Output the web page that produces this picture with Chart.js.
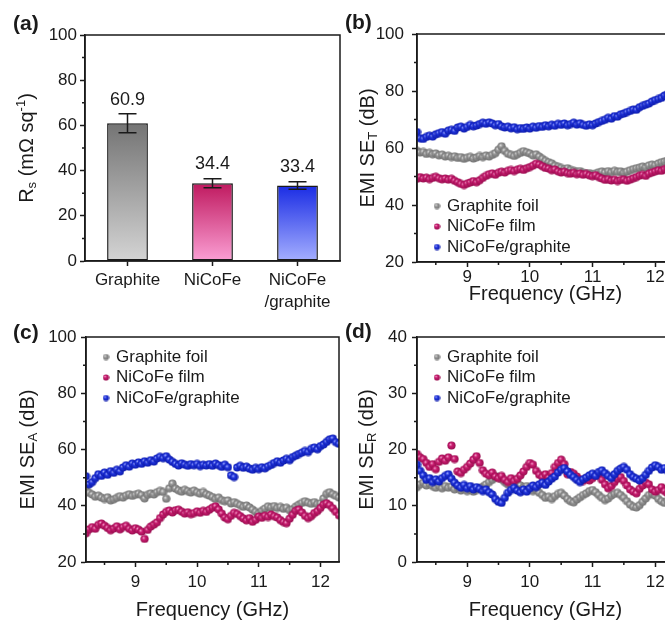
<!DOCTYPE html>
<html>
<head>
<meta charset="utf-8">
<script src="https://cdn.jsdelivr.net/npm/chart.js@4.4.0/dist/chart.umd.min.js"></script>
<style>
body { margin: 0; background: #fff; }
#fig { position: relative; width: 665px; height: 622px; overflow: hidden; background: #fff; }
.panel { position: absolute; }
</style>
</head>
<body>
<div id="fig">
  <div class="panel" style="left:0;top:0;width:345px;height:310px"><canvas id="pa"></canvas></div>
  <div class="panel" style="left:332px;top:0;width:360px;height:310px"><canvas id="pb"></canvas></div>
  <div class="panel" style="left:0;top:310px;width:345px;height:312px"><canvas id="pc"></canvas></div>
  <div class="panel" style="left:332px;top:310px;width:360px;height:312px"><canvas id="pd"></canvas></div>
</div>
<script>
// ---- data ----
const sampleLabels = ['Graphite', 'NiCoFe', ['NiCoFe', '/graphite']];
const rsValues = [60.9, 34.4, 33.4];
const rsErrors = [4.2, 2.0, 1.7];
const rsTicks = [0, 20, 40, 60, 80, 100];
const rsMinor = [10, 30, 50, 70, 90];

const seriesNames = ['Graphite foil', 'NiCoFe film', 'NiCoFe/graphite'];
const freqTicks = [9, 10, 11, 12];
const freqMinor = [8.5, 9.5, 10.5, 11.5];
const seTicks = [20, 40, 60, 80, 100];
const seMinor = [30, 50, 70, 90];
const srTicks = [0, 10, 20, 30, 40];
const srMinor = [5, 15, 25, 35];

const freq = [
  8.20, 8.25, 8.30, 8.35, 8.40, 8.45, 8.50, 8.55, 8.60, 8.65,
  8.70, 8.75, 8.80, 8.85, 8.90, 8.95, 9.00, 9.05, 9.10, 9.15,
  9.20, 9.25, 9.30, 9.35, 9.40, 9.45, 9.50, 9.55, 9.60, 9.65,
  9.70, 9.75, 9.80, 9.85, 9.90, 9.95, 10.00, 10.05, 10.10, 10.15,
  10.20, 10.25, 10.30, 10.35, 10.40, 10.45, 10.50, 10.55, 10.60, 10.65,
  10.70, 10.75, 10.80, 10.85, 10.90, 10.95, 11.00, 11.05, 11.10, 11.15,
  11.20, 11.25, 11.30, 11.35, 11.40, 11.45, 11.50, 11.55, 11.60, 11.65,
  11.70, 11.75, 11.80, 11.85, 11.90, 11.95, 12.00, 12.05, 12.10, 12.15,
  12.20, 12.25, 12.30
];

// (b) total shielding
const seTGraphite = [
  59.0, 58.4, 58.6, 57.9, 58.3, 57.8, 58.1, 57.4, 57.7, 57.0,
  57.3, 56.8, 57.1, 56.5, 56.8, 56.2, 56.6, 56.9, 56.3, 56.7,
  57.2, 56.8, 57.4, 57.0, 57.6, 58.2, 59.4, 60.6, 59.0, 58.0,
  57.6, 57.2, 57.8, 58.3, 58.9, 58.5, 58.1, 57.4, 57.8, 57.0,
  56.2, 55.5, 55.0, 54.6, 53.8, 53.4, 53.0, 52.6, 52.9, 52.3,
  52.0, 51.6, 51.9, 51.3, 51.0, 51.2, 50.8, 51.1, 51.5, 51.8,
  51.4, 51.9, 51.5, 52.0, 51.6, 51.8, 51.3, 51.7, 52.2, 52.6,
  52.9, 53.1, 53.5, 53.2, 53.9, 54.2, 54.0, 54.6, 55.0, 55.3,
  55.6, 55.9, 56.2
];
const seTNiCoFe = [
  49.2, 49.8, 49.3, 49.6, 49.1, 49.5, 49.9, 49.4, 49.0, 49.3,
  48.9, 49.2, 48.5, 48.0, 47.4, 47.0, 47.5, 47.9, 48.4, 48.0,
  48.7, 49.5, 50.2, 50.8, 51.1, 50.6, 51.3, 51.7, 51.4, 52.0,
  52.3, 51.9, 52.4, 52.7, 52.3, 52.9, 53.3, 53.8, 54.5, 54.2,
  53.6, 53.0, 52.8, 52.2, 52.5, 51.8, 51.4, 51.7, 51.2, 51.0,
  51.3, 50.8, 51.1, 50.6, 50.9, 50.4, 50.1, 50.5, 49.8, 49.3,
  48.8, 49.1, 48.6, 48.9, 48.4, 48.8, 49.0, 48.5, 48.9, 49.4,
  49.8, 50.3, 50.6, 50.2, 51.0, 51.4, 51.8, 52.2, 52.0, 52.6,
  53.0, 52.7, 53.2
];
const seTHybrid = [
  65.6, 63.4, 63.2, 63.9, 64.3, 64.0, 64.8, 65.2, 65.6, 65.0,
  66.1, 66.4, 66.0, 67.2, 67.5, 66.8, 67.4, 68.1, 67.6, 67.9,
  68.4, 68.9, 68.5, 69.0, 68.6, 68.0, 68.4, 67.6, 67.2, 67.5,
  66.9, 67.3, 66.6, 67.0, 66.7, 67.2, 66.8, 67.5, 67.1, 67.7,
  67.4, 68.0, 67.6, 68.2, 67.8, 68.5, 68.1, 68.6, 68.0, 68.4,
  68.9, 68.2, 68.7, 68.1, 67.8, 68.3, 68.0, 68.6, 69.1, 69.5,
  69.9, 70.6, 70.3, 71.2, 71.0, 71.8, 72.1, 72.6, 73.0, 73.5,
  73.4, 74.3, 74.8, 75.2, 75.6, 76.3, 76.8, 77.2, 77.6, 78.4,
  78.9, 79.4, 80.0
];

// (c) absorption
const seAGraphite = [
  45.4, 44.6, 44.0, 43.2, 43.6, 42.9, 42.4, 43.0, 41.9, 42.3,
  42.8, 43.4, 42.9, 43.6, 44.1, 43.5, 43.9, 44.3, 43.8, 42.6,
  43.9, 44.4, 44.0, 44.8, 45.3, 44.9, 42.5, 46.2, 47.9, 46.1,
  45.5, 45.0, 45.7, 45.2, 44.7, 45.4, 44.8, 44.3, 44.9, 44.1,
  43.6, 43.1, 42.4, 42.9, 42.0, 41.6, 41.9, 40.8, 41.3, 40.7,
  40.2, 39.6, 40.1, 39.4, 38.6, 37.8, 37.3, 38.2, 39.0, 39.8,
  39.4, 39.9, 39.2, 39.6, 38.9, 39.3, 38.4, 38.8, 39.7, 40.4,
  41.0, 41.6, 41.1, 40.7, 41.3, 40.6, 40.9, 42.6, 44.2, 44.8,
  44.1, 43.5, 42.9
];
const seANiCoFe = [
  30.2, 31.6, 32.4, 31.8, 33.2, 33.7, 32.9, 32.1, 31.3, 31.9,
  32.7, 31.6, 32.4, 32.9, 31.8, 31.2, 32.0, 31.5, 30.8, 28.2,
  31.4, 32.6, 33.3, 34.1, 35.6, 36.9, 37.8, 38.3, 37.6, 38.4,
  38.6, 37.9, 37.2, 37.7, 37.0, 37.4, 38.0, 37.5, 38.2, 37.8,
  38.6, 39.3, 39.8, 38.7, 37.2, 35.8, 35.2, 36.4, 37.5, 37.1,
  36.3, 35.5, 34.8, 35.6, 34.3, 35.0, 36.2, 35.7, 36.5, 36.0,
  36.9, 36.3, 35.8, 34.9, 34.2, 33.8, 35.4, 36.8, 38.2, 38.7,
  37.6, 36.4, 35.6, 36.3, 37.4, 38.1, 39.2, 40.4, 40.9, 40.2,
  39.1, 37.8, 36.6
];
const seAHybrid = [
  50.5, 47.6, 48.4, 49.8, 51.2, 50.6, 51.8, 51.0, 52.3, 51.7,
  52.8, 52.2, 53.6, 54.4, 53.9, 55.0, 54.6, 55.4, 54.9, 55.8,
  55.3, 56.2, 55.7, 56.8, 57.4, 56.9, 57.6, 56.4, 55.6, 54.9,
  54.3, 55.1, 54.6, 54.2, 54.8, 54.4, 54.9, 54.1, 54.6, 54.3,
  54.8, 54.2, 55.0, 54.4, 53.8, 54.6, 53.7, 50.8, 50.2, 53.6,
  54.2, 53.5, 53.9, 53.2, 52.8, 53.5, 53.0, 53.7, 53.3, 54.0,
  54.5, 55.2, 55.8, 55.3, 56.1, 56.7, 56.2, 57.3, 57.8, 58.4,
  58.9, 59.5, 59.1, 60.2, 60.7, 60.1, 61.2, 61.8, 62.7, 63.6,
  63.9, 62.6, 62.0
];

// (d) reflection
const seRGraphite = [
  13.3, 13.8, 14.1, 13.6, 13.9, 13.5, 13.2, 13.6, 13.1, 13.5,
  13.2, 13.4, 12.9, 13.3, 12.7, 13.0, 12.6, 12.9, 12.5, 12.8,
  13.1, 13.4, 13.8, 14.2, 14.6, 15.0, 15.2, 14.7, 14.2, 13.8,
  14.1, 13.7, 14.0, 13.6, 13.2, 13.5, 13.0, 12.6, 12.9, 12.3,
  11.9, 11.4, 11.6, 11.2, 11.7, 12.1, 12.3, 11.8, 11.2, 10.8,
  10.6, 11.1, 11.5, 11.9, 12.2, 12.6, 12.8, 12.4, 11.9, 11.4,
  11.0, 11.3, 11.8, 12.1, 12.3, 11.9, 11.4, 10.8, 10.2, 9.8,
  9.7, 10.1, 10.7, 11.3, 11.9, 12.2, 11.8, 11.2, 10.8, 10.5,
  10.9, 11.3, 11.0
];
const seRNiCoFe = [
  19.2, 18.6, 18.3, 17.6, 16.9, 17.4, 16.5, 17.8, 18.4, 18.0,
  18.6, 20.7, 18.3, 16.1, 15.8, 16.4, 16.9, 17.5, 18.2, 18.8,
  17.6, 16.3, 15.7, 15.4, 15.9, 15.2, 14.9, 15.3, 14.6, 14.2,
  14.9, 14.4, 14.8, 15.4, 16.1, 16.9, 17.6, 17.3, 16.2, 15.5,
  15.1, 15.6, 15.0, 15.8, 16.9, 17.6, 18.2, 17.4, 15.6, 16.0,
  15.7, 15.2, 14.7, 14.4, 14.9, 14.5, 14.9, 15.3, 15.6, 14.6,
  13.8, 13.1, 13.5, 14.2, 14.8, 15.1, 14.4, 13.6, 12.9, 12.5,
  12.2, 13.0, 13.6, 14.1, 13.8, 12.9, 12.5, 12.8, 13.3, 12.6,
  12.2, 12.6, 12.9
];
const seRHybrid = [
  17.3, 16.2, 15.4, 14.6, 14.9, 14.2, 14.7, 14.3, 14.9, 15.3,
  15.6, 14.8, 14.1, 13.6, 13.2, 13.7, 13.1, 13.5, 12.9, 13.3,
  13.0, 12.6, 12.9, 12.4, 12.0, 11.2, 10.7, 10.5, 11.4, 12.3,
  12.8, 13.2, 12.7, 12.4, 12.9, 12.5, 13.1, 13.6, 13.3, 13.8,
  14.1, 13.7, 14.3, 14.8, 15.2, 15.9, 16.4, 16.7, 16.1, 15.5,
  15.1, 14.6, 14.2, 14.7, 15.0, 15.4, 15.7, 15.3, 16.0, 16.3,
  15.8, 15.3, 14.9, 15.6, 16.2, 16.6, 16.9, 16.4, 15.6, 15.1,
  14.8, 14.5, 14.9, 15.5, 16.2, 16.8, 17.2, 16.9, 16.4, 16.7,
  16.2, 15.9, 16.4
];

// ---- styling ----
const FONT = "'Liberation Sans', Arial, sans-serif";
const INK = '#1a1a1a';
Chart.defaults.font.family = FONT;
Chart.defaults.color = INK;
Chart.defaults.animation = false;

const barTop = ['#747474', '#bf195f', '#1a2ce4'];
const barBottom = ['#d4d4d4', '#fb9fd4', '#a5afff'];

// shaded dot used as point style
function ball(light, base, dark, size) {
  const c = document.createElement('canvas');
  c.width = c.height = size;
  const g = c.getContext('2d');
  const m = size / 2;
  const gr = g.createRadialGradient(m - 1.2, m - 1.2, 0.2, m, m, m);
  gr.addColorStop(0, light);
  gr.addColorStop(0.35, base);
  gr.addColorStop(1, dark);
  g.fillStyle = gr;
  g.beginPath();
  g.arc(m, m, m - 0.4, 0, Math.PI * 2);
  g.fill();
  return c;
}
const balls = [
  ball('#e2e2e2', '#979797', '#6c6c6c', 9),
  ball('#f2a2ca', '#c91c70', '#930c4c', 9),
  ball('#a3aeff', '#2135de', '#0a17a4', 9)
];
const dots = [
  ball('#e2e2e2', '#979797', '#6c6c6c', 7),
  ball('#f2a2ca', '#c91c70', '#930c4c', 7),
  ball('#a3aeff', '#2135de', '#0a17a4', 7)
];

function drawRich(ctx, parts, x, y) {
  ctx.save();
  ctx.translate(x, y);
  ctx.rotate(-Math.PI / 2);
  ctx.textBaseline = 'middle';
  ctx.textAlign = 'left';
  ctx.fillStyle = INK;
  const fontOf = p => (p[1] ? 13 : 20) + 'px ' + FONT;
  const widths = parts.map(p => { ctx.font = fontOf(p); return ctx.measureText(p[0]).width; });
  let cx = -widths.reduce((s, w) => s + w, 0) / 2;
  parts.forEach((p, i) => {
    ctx.font = fontOf(p);
    const dy = p[1] === 'sub' ? 5 : p[1] === 'sup' ? -6 : 0;
    ctx.fillText(p[0], cx, dy);
    cx += widths[i];
  });
  ctx.restore();
}

function deco(cfg) {
  return {
    id: 'deco',
    afterDraw(chart) {
      const { ctx, chartArea: a } = chart;
      const xs = chart.scales.x, ys = chart.scales.y;
      ctx.save();
      ctx.strokeStyle = INK;
      ctx.lineWidth = 1.5;
      ctx.strokeRect(a.left, a.top, a.right - a.left, a.bottom - a.top);
      ctx.beginPath();
      (cfg.minorX || []).forEach(v => {
        const px = xs.getPixelForValue(v);
        ctx.moveTo(px, a.bottom); ctx.lineTo(px, a.bottom + 3);
      });
      (cfg.minorY || []).forEach(v => {
        const py = ys.getPixelForValue(v);
        ctx.moveTo(a.left, py); ctx.lineTo(a.left - 3, py);
      });
      ctx.stroke();

      ctx.fillStyle = INK;
      ctx.font = 'bold 21px ' + FONT;
      ctx.textBaseline = 'alphabetic';
      ctx.textAlign = 'left';
      ctx.fillText(cfg.panel, cfg.panelX, cfg.panelY);

      drawRich(ctx, cfg.yTitle, cfg.yTitleX, (a.top + a.bottom) / 2);

      if (cfg.legendY !== undefined) {
        ctx.font = '17px ' + FONT;
        ctx.textBaseline = 'middle';
        chart.data.datasets.forEach((ds, i) => {
          const ry = a.top + cfg.legendY + i * 20.5;
          ctx.drawImage(dots[i], a.left + 20 - 3.5, ry - 3.5);
          ctx.fillStyle = INK;
          ctx.fillText(ds.label, a.left + 30, ry);
        });
      }
      ctx.restore();
    }
  };
}

const tickGrid = { drawOnChartArea: false, drawTicks: true, tickLength: 5, tickColor: INK, tickWidth: 1.5 };
const axisBorder = { display: true, color: INK, width: 1.5 };

// ---- (a) sheet resistance bars ----
const errorBars = {
  id: 'errorBars',
  afterDatasetsDraw(chart) {
    const { ctx } = chart;
    const ys = chart.scales.y;
    const meta = chart.getDatasetMeta(0);
    ctx.save();
    ctx.strokeStyle = INK;
    ctx.lineWidth = 1.5;
    ctx.fillStyle = INK;
    ctx.font = '18px ' + FONT;
    ctx.textAlign = 'center';
    ctx.textBaseline = 'middle';
    meta.data.forEach((bar, i) => {
      const hi = ys.getPixelForValue(rsValues[i] + rsErrors[i]);
      const lo = ys.getPixelForValue(rsValues[i] - rsErrors[i]);
      ctx.beginPath();
      ctx.moveTo(bar.x, hi); ctx.lineTo(bar.x, lo);
      ctx.moveTo(bar.x - 9, hi); ctx.lineTo(bar.x + 9, hi);
      ctx.moveTo(bar.x - 9, lo); ctx.lineTo(bar.x + 9, lo);
      ctx.stroke();
      ctx.fillText(rsValues[i].toFixed(1), bar.x, ys.getPixelForValue(rsValues[i] + rsErrors[i] + 6.3));
    });
    ctx.restore();
  }
};

function barFill(c) {
  const i = c.dataIndex;
  if (i === undefined) return barTop[0];
  const chart = c.chart;
  if (!chart.chartArea || !chart.scales.y) return barTop[i];
  const ys = chart.scales.y;
  const g = chart.ctx.createLinearGradient(0, ys.getPixelForValue(rsValues[i]), 0, ys.getPixelForValue(0));
  g.addColorStop(0, barTop[i]);
  g.addColorStop(1, barBottom[i]);
  return g;
}

new Chart(document.getElementById('pa'), {
  type: 'bar',
  data: {
    labels: sampleLabels,
    datasets: [{
      data: rsValues,
      backgroundColor: barFill,
      borderColor: INK,
      borderWidth: 1.5,
      borderSkipped: false,
      categoryPercentage: 1,
      barPercentage: 0.48
    }]
  },
  options: {
    responsive: true,
    maintainAspectRatio: false,
    layout: { padding: { left: 0, right: 5, top: 35, bottom: 0 } },
    plugins: { legend: { display: false }, tooltip: { enabled: false } },
    scales: {
      x: {
        grid: Object.assign({ offset: false }, tickGrid),
        border: axisBorder,
        ticks: { font: { size: 17, lineHeight: 1.3 }, padding: 3, color: INK, maxRotation: 0 },
        afterFit: s => { s.height = 49; }
      },
      y: {
        min: 0, max: 100,
        afterBuildTicks: s => { s.ticks = rsTicks.map(v => ({ value: v })); },
        grid: tickGrid,
        border: axisBorder,
        ticks: { font: { size: 17 }, padding: 3, color: INK },
        afterFit: s => { s.width = 85; }
      }
    }
  },
  plugins: [errorBars, deco({
    panel: '(a)', panelX: 13, panelY: 30,
    yTitle: [['R', ''], ['s', 'sub'], [' (m\u03A9 sq', ''], ['-1', 'sup'], [')', '']],
    yTitleX: 27,
    minorY: rsMinor
  })]
});

// ---- (b)-(d) scatter panels ----
function scatterPanel(id, o) {
  const datasets = o.series.map((s, i) => ({
    label: seriesNames[i],
    data: freq.map((f, k) => ({ x: f, y: s[k] })),
    pointStyle: balls[i],
    pointRadius: 4.5,
    order: 3 - i
  }));
  new Chart(document.getElementById(id), {
    type: 'scatter',
    data: { datasets },
    options: {
      responsive: true,
      maintainAspectRatio: false,
      layout: { padding: { left: 0, right: o.padRight, top: o.padTop, bottom: 0 } },
      plugins: { legend: { display: false }, tooltip: { enabled: false } },
      scales: {
        x: {
          type: 'linear', min: 8.2, max: 12.3,
          afterBuildTicks: s => { s.ticks = freqTicks.map(v => ({ value: v })); },
          grid: tickGrid,
          border: axisBorder,
          ticks: { font: { size: 17 }, padding: o.xPad, color: INK },
          title: { display: true, text: 'Frequency (GHz)', font: { size: 20 }, color: INK, padding: { top: 0, bottom: o.titlePad } },
          afterFit: s => { s.height = o.xH; }
        },
        y: {
          min: o.yMin, max: o.yMax,
          afterBuildTicks: s => { s.ticks = o.yTicks.map(v => ({ value: v })); },
          grid: tickGrid,
          border: axisBorder,
          ticks: { font: { size: 17 }, padding: o.yPad, color: INK },
          afterFit: s => { s.width = o.yW; }
        }
      }
    },
    plugins: [deco({
      panel: o.panel, panelX: 13, panelY: o.panelY,
      yTitle: o.yTitle, yTitleX: o.yTitleX,
      minorX: freqMinor, minorY: o.yMinor,
      legendY: o.legendY
    })]
  });
}

scatterPanel('pb', {
  series: [seTGraphite, seTNiCoFe, seTHybrid],
  yMin: 20, yMax: 100, yTicks: seTicks, yMinor: seMinor,
  padTop: 34, padRight: 18, xH: 48, yW: 85,
  xPad: 0.5, yPad: 8, titlePad: 4,
  panel: '(b)', panelY: 29,
  yTitle: [['EMI SE', ''], ['T', 'sub'], [' (dB)', '']], yTitleX: 36,
  legendY: 172
});
scatterPanel('pc', {
  series: [seAGraphite, seANiCoFe, seAHybrid],
  yMin: 20, yMax: 100, yTicks: seTicks, yMinor: seMinor,
  padTop: 27, padRight: 6, xH: 60, yW: 86,
  xPad: 5.3, yPad: 4.5, titlePad: 0,
  panel: '(c)', panelY: 29,
  yTitle: [['EMI SE', ''], ['A', 'sub'], [' (dB)', '']], yTitleX: 28,
  legendY: 20
});
scatterPanel('pd', {
  series: [seRGraphite, seRNiCoFe, seRHybrid],
  yMin: 0, yMax: 40, yTicks: srTicks, yMinor: srMinor,
  padTop: 27, padRight: 18, xH: 60, yW: 85,
  xPad: 5.3, yPad: 5, titlePad: 0,
  panel: '(d)', panelY: 28,
  yTitle: [['EMI SE', ''], ['R', 'sub'], [' (dB)', '']], yTitleX: 35,
  legendY: 20
});
</script>
</body>
</html>
